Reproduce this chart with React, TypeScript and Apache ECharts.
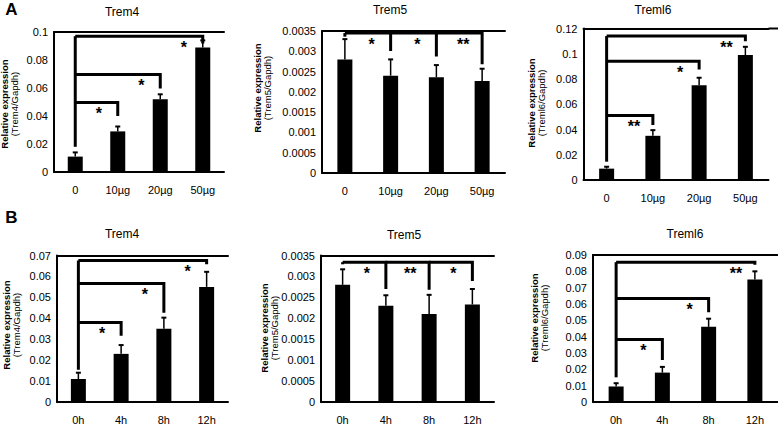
import React, { useEffect, useRef } from "react";
import * as echarts from "echarts";

const doseCats = ["0", "10µg", "20µg", "50µg"];
const timeCats = ["0h", "4h", "8h", "12h"];

// Panel A (LPS dose)
const trem4Dose = [0.011, 0.029, 0.052, 0.089];
const trem4DoseErr = [0.003, 0.0035, 0.0035, 0.005];
const trem5Dose = [0.0028, 0.0024, 0.00236, 0.00227];
const trem5DoseErr = [0.0005, 0.0004, 0.0003, 0.0003];
const treml6Dose = [0.009, 0.035, 0.075, 0.099];
const treml6DoseErr = [0.0015, 0.0045, 0.006, 0.0065];

// Panel B (time)
const trem4Time = [0.011, 0.023, 0.035, 0.055];
const trem4TimeErr = [0.003, 0.0042, 0.0053, 0.0072];
const trem5Time = [0.0028, 0.0023, 0.0021, 0.00233];
const trem5TimeErr = [0.00037, 0.00025, 0.00046, 0.00037];
const treml6Time = [0.0095, 0.018, 0.046, 0.075];
const treml6TimeErr = [0.002, 0.0035, 0.005, 0.005];

// Tick labels
const ticksTrem4Dose = ["0", "0.02", "0.04", "0.06", "0.08", "0.1"];
const ticksTrem5 = ["0", "0.0005", "0.001", "0.0015", "0.002", "0.0025", "0.003", "0.0035"];
const ticksTreml6Dose = ["0", "0.02", "0.04", "0.06", "0.08", "0.1", "0.12"];
const ticksTrem4Time = ["0", "0.01", "0.02", "0.03", "0.04", "0.05", "0.06", "0.07"];
const ticksTreml6Time = ["0", "0.01", "0.02", "0.03", "0.04", "0.05", "0.06", "0.07", "0.08", "0.09"];

// Significance brackets: [fromIndex, toIndex, level, dropEnd]
const bracketsTrem4Dose = [[0, 0, 0.097, 0.018], [0, 1, 0.0496, 0.04], [0, 2, 0.0696, 0.0596], [0, 3, 0.097, 0.0917]];
const starsTrem4Dose = ["", "*", "*", "*"];
const bracketsTrem5Dose = [[0, 0, 0.00345, 0.00336], [0, 1, 0.00345, 0.00301], [1, 2, 0.00345, 0.00287], [2, 3, 0.00345, 0.00268]];
const starsTrem5Dose = ["", "*", "*", "**"];
const bracketsTreml6Dose = [[0, 0, 0.114, 0.0145], [0, 1, 0.051, 0.0435], [0, 2, 0.094, 0.0875], [0, 3, 0.114, 0.11]];
const starsTreml6Dose = ["", "**", "*", "**"];
const bracketsTrem4Time = [[0, 0, 0.0676, 0.0154], [0, 1, 0.038, 0.0316], [0, 2, 0.0566, 0.0426], [0, 3, 0.0676, 0.0658]];
const starsTrem4Time = ["", "*", "*", "*"];
const bracketsTrem5Time = [[0, 0, 0.00334, 0.00329], [0, 1, 0.00334, 0.0027], [1, 2, 0.00334, 0.00268], [2, 3, 0.00334, 0.00289]];
const starsTrem5Time = ["", "*", "**", "*"];
const bracketsTreml6Time = [[0, 0, 0.0856, 0.0151], [0, 1, 0.0382, 0.0257], [0, 2, 0.0633, 0.0549], [0, 3, 0.0856, 0.084]];
const starsTreml6Time = ["", "*", "*", "**"];

const FONT = "'Liberation Sans', Arial, Helvetica, sans-serif";

const panels = [
  { cats: doseCats, values: trem4Dose, errs: trem4DoseErr, ticks: ticksTrem4Dose, max: 0.1, interval: 0.02,
    brackets: bracketsTrem4Dose, stars: starsTrem4Dose, title: "Trem4",
    box: [54, 32, 170, 140], titlePos: [122, 12], namePos: [9.5, 104], extendTop: 0 },
  { cats: doseCats, values: trem5Dose, errs: trem5DoseErr, ticks: ticksTrem5, max: 0.0035, interval: 0.0005,
    brackets: bracketsTrem5Dose, stars: starsTrem5Dose, title: "Trem5",
    box: [322, 31, 183, 142], titlePos: [390, 10], namePos: [262.5, 88], extendTop: 0 },
  { cats: doseCats, values: treml6Dose, errs: treml6DoseErr, ticks: ticksTreml6Dose, max: 0.12, interval: 0.02,
    brackets: bracketsTreml6Dose, stars: starsTreml6Dose, title: "Treml6",
    box: [583.5, 28.5, 185, 151.5], titlePos: [653, 9.5], namePos: [536.5, 103], extendTop: 778 },
  { cats: timeCats, values: trem4Time, errs: trem4TimeErr, ticks: ticksTrem4Time, max: 0.07, interval: 0.01,
    brackets: bracketsTrem4Time, stars: starsTrem4Time, title: "Trem4",
    box: [57, 255.5, 171, 149], titlePos: [122, 233.5], namePos: [11.5, 325], extendTop: 0 },
  { cats: timeCats, values: trem5Time, errs: trem5TimeErr, ticks: ticksTrem5, max: 0.0035, interval: 0.0005,
    brackets: bracketsTrem5Time, stars: starsTrem5Time, title: "Trem5",
    box: [321, 255.5, 173, 149], titlePos: [404, 235], namePos: [269.5, 328], extendTop: 0 },
  { cats: timeCats, values: treml6Time, errs: treml6TimeErr, ticks: ticksTreml6Time, max: 0.09, interval: 0.01,
    brackets: bracketsTreml6Time, stars: starsTreml6Time, title: "Treml6",
    box: [593, 255, 185, 149.5], titlePos: [685, 233.5], namePos: [539.5, 318], extendTop: 0 },
];

function buildOption() {
  const grid: any[] = [];
  const xAxis: any[] = [];
  const yAxis: any[] = [];
  const series: any[] = [];
  const graphic: any[] = [];

  panels.forEach((p, i) => {
    const [left, top, width, height] = p.box;
    grid.push({ left, top, width, height, containLabel: false });
    xAxis.push({
      type: "category", gridIndex: i, data: p.cats, position: "bottom",
      axisLine: { show: true, lineStyle: { color: "#000", width: 2 } },
      axisTick: { show: false },
      axisLabel: { color: "#000", fontSize: 11, fontFamily: FONT, margin: 12 },
    });
    xAxis.push({
      type: "category", gridIndex: i, data: p.cats, position: "top",
      axisLine: { show: true, lineStyle: { color: "#000", width: 2 } },
      axisTick: { show: false }, axisLabel: { show: false },
    });
    const ticks = p.ticks;
    yAxis.push({
      type: "value", gridIndex: i, min: 0, max: p.max, interval: p.interval,
      axisLine: { show: true, lineStyle: { color: "#000", width: 2 } },
      axisTick: { show: false }, splitLine: { show: false },
      axisLabel: { color: "#000", fontSize: 11, fontFamily: FONT, margin: 6,
        formatter: (_v: number, idx: number) => ticks[idx] },
    });
    series.push({
      type: "bar", xAxisIndex: 2 * i, yAxisIndex: i, data: p.values, barWidth: 15,
      itemStyle: { color: "#000" }, silent: true,
    });
    series.push({
      type: "custom", coordinateSystem: "cartesian2d", xAxisIndex: 2 * i, yAxisIndex: i,
      encode: { x: 0, y: [1, 2] }, silent: true,
      data: p.values.map((v, k) => [k, v, v + p.errs[k]]),
      renderItem: (_params: any, api: any) => {
        const k = api.value(0);
        const a = api.coord([k, api.value(1)]);
        const b = api.coord([k, api.value(2)]);
        return {
          type: "group",
          children: [
            { type: "line", shape: { x1: a[0], y1: a[1], x2: b[0], y2: b[1] }, style: { stroke: "#000", lineWidth: 1.5 } },
            { type: "line", shape: { x1: b[0] - 2.5, y1: b[1], x2: b[0] + 2.5, y2: b[1] }, style: { stroke: "#000", lineWidth: 2 } },
          ],
        };
      },
      z: 3,
    });
    const stars = p.stars;
    series.push({
      type: "custom", coordinateSystem: "cartesian2d", xAxisIndex: 2 * i, yAxisIndex: i,
      encode: { x: [0, 1], y: [2, 3] }, silent: true, clip: false,
      data: p.brackets,
      renderItem: (params: any, api: any) => {
        const f = api.value(0), t = api.value(1), lv = api.value(2), dr = api.value(3);
        const a = api.coord([f, lv]);
        const b = api.coord([t, lv]);
        const c = api.coord([t, dr]);
        const children: any[] = [
          { type: "polyline", shape: { points: [a, b, c] }, style: { stroke: "#000", lineWidth: 3, fill: "none", lineJoin: "miter" } },
        ];
        const s = stars[params.dataIndex];
        if (s) {
          children.push({
            type: "text", x: c[0] - 19, y: a[1] + 11,
            style: { text: s, fontSize: 16, fontWeight: "bold", fontFamily: FONT, fill: "#000", align: "center", verticalAlign: "middle" },
          });
        }
        return { type: "group", children };
      },
      z: 4,
    });

    graphic.push({
      type: "text", x: p.titlePos[0], y: p.titlePos[1],
      style: { text: p.title, fontSize: 12, fontFamily: FONT, fill: "#000", align: "center", verticalAlign: "middle" },
    });
    graphic.push({
      type: "text", x: p.namePos[0], y: p.namePos[1], rotation: Math.PI / 2,
      style: {
        text: "{b|Relative expression}\n{n|(" + p.title + "/Gapdh)}",
        align: "center", verticalAlign: "middle", fill: "#000", fontFamily: FONT,
        rich: {
          b: { fontSize: 9.5, fontWeight: "bold", fontFamily: FONT, lineHeight: 9.5, fill: "#000" },
          n: { fontSize: 9.5, fontFamily: FONT, lineHeight: 9.5, fill: "#000" },
        },
      },
    });
    if (p.extendTop) {
      graphic.push({
        type: "line", shape: { x1: left + width, y1: top, x2: p.extendTop, y2: top },
        style: { stroke: "#000", lineWidth: 2 },
      });
    }
  });

  graphic.push({ type: "text", x: 11.5, y: 9.5, style: { text: "A", fontSize: 17, fontWeight: "bold", fontFamily: FONT, fill: "#000", align: "center", verticalAlign: "middle" } });
  graphic.push({ type: "text", x: 11.5, y: 217, style: { text: "B", fontSize: 17, fontWeight: "bold", fontFamily: FONT, fill: "#000", align: "center", verticalAlign: "middle" } });

  return {
    animation: false,
    backgroundColor: "#fff",
    textStyle: { fontFamily: FONT },
    grid, xAxis, yAxis, series, graphic,
  };
}

export default function App() {
  const ref = useRef<HTMLDivElement>(null);
  useEffect(() => {
    if (!ref.current) return;
    const chart = echarts.init(ref.current, undefined, { renderer: "svg" });
    chart.setOption(buildOption() as any);
    return () => chart.dispose();
  }, []);
  return <div ref={ref} style={{ position: "absolute", left: 0, top: 0, width: 778, height: 425 }} />;
}
